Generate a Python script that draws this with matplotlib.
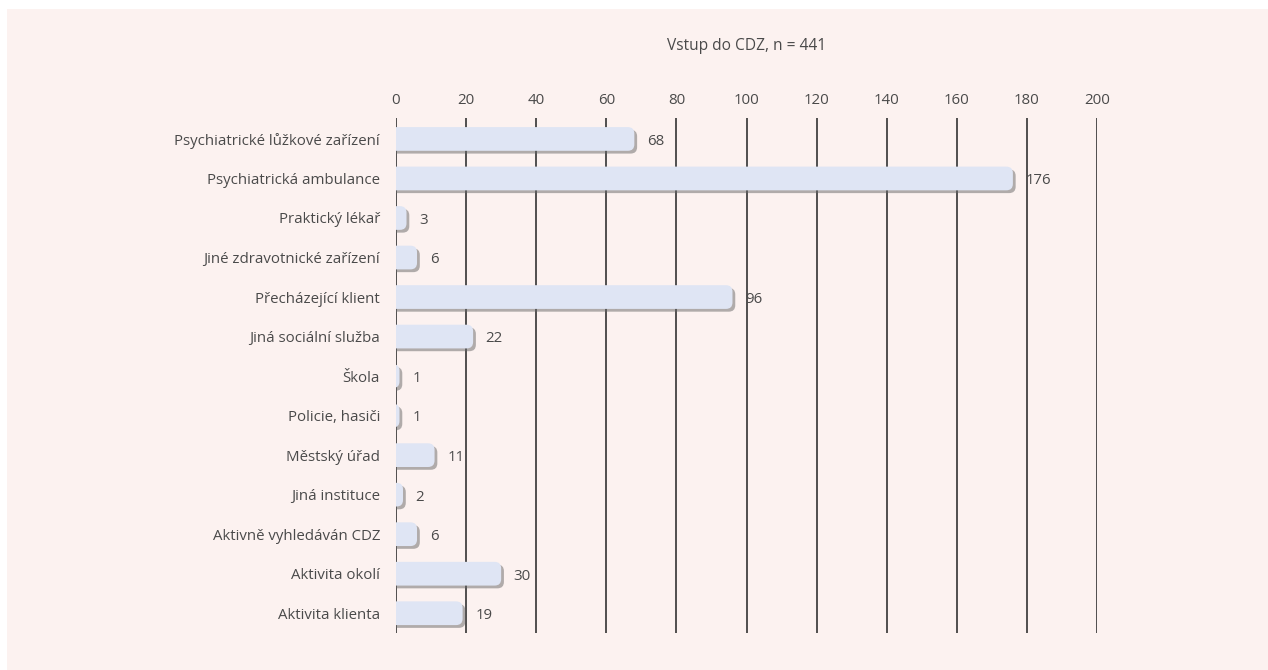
import numpy as np
import matplotlib
matplotlib.use("Agg")
import matplotlib.pyplot as plt
from matplotlib.patches import FancyBboxPatch, Rectangle
import matplotlib.patheffects as pe

plt.rcParams['font.family'] = ['Open Sans', 'DejaVu Sans']

categories = ["Psychiatrické lůžkové zařízení", "Psychiatrická ambulance",
              "Praktický lékař", "Jiné zdravotnické zařízení",
              "Přecházející klient", "Jiná sociální služba", "Škola",
              "Policie, hasiči", "Městský úřad", "Jiná instituce",
              "Aktivně vyhledáván CDZ", "Aktivita okolí", "Aktivita klienta"]
values = [68, 176, 3, 6, 96, 22, 1, 1, 11, 2, 6, 30, 19]
xticks = [0, 20, 40, 60, 80, 100, 120, 140, 160, 180, 200]
title = "Vstup do CDZ, n = 441"

W, H = 1268, 670
fig = plt.figure(figsize=(W / 100, H / 100), dpi=100)
fig.patch.set_facecolor("white")
fig.patches.append(Rectangle((7 / W, -0.01), 1.01, 1.01 - 9 / H, transform=fig.transFigure,
                             facecolor="#fcf2f0", edgecolor="none", zorder=-5))

ax = fig.add_axes([396 / W, 1 - 633 / H, (1097 - 396) / W, (633 - 118) / H])
ax.set_zorder(2)
ax.set_facecolor("none")
for s in ax.spines.values():
    s.set_visible(False)

ypos = np.arange(len(categories))
ax.set_xlim(0, 200)
ax.set_ylim(len(categories) - 0.5, -0.53)

# scale ratio so the rounded corners look circular on screen
px_x = (1097 - 396) / 200.0
px_y = (633 - 118) / (len(categories) - 0.5 + 0.53)
aspect = px_x / px_y
r_px = 6.5
r_x = r_px / px_x

bh = 0.6
bars = ax.barh(ypos, values, height=bh, color="none")
for rect, v in zip(bars, values):
    x0 = -3.0
    w = v - x0
    rs = min(r_x, w / 2.0)
    p = FancyBboxPatch((x0, rect.get_y()), w, bh,
                       boxstyle="round,pad=0,rounding_size=%f" % rs,
                       mutation_aspect=aspect,
                       facecolor="#dfe5f4", edgecolor="none", zorder=3,
                       path_effects=[pe.SimplePatchShadow(offset=(2, -2), shadow_rgbFace="#666666", alpha=0.5),
                                     pe.Normal()])
    ax.add_patch(p)
    ax.text(v + 3.6, rect.get_y() + bh / 2 + 0.06, str(v), va="center", ha="left",
            fontsize=10.8, color="#4a4a4a", zorder=4)

for t in xticks:
    ax.axvline(t, color="#333333", lw=1.2, zorder=1)

ax.xaxis.tick_top()
ax.set_xticks(xticks)
ax.set_xticklabels([str(t) for t in xticks])
ax.tick_params(axis="x", length=0, pad=7, labelsize=10.8, labelcolor="#4a4a4a")
ax.set_yticks(ypos)
ax.set_yticklabels(categories)
ax.tick_params(axis="y", length=0, pad=11.5, labelsize=10.8, labelcolor="#4a4a4a")

fig.text((396 + 1097) / 2 / W, 1 - 46 / H, title, ha="center", va="center",
         fontsize=11.2, color="#4a4a4a")

fig.savefig("out.png", dpi=100)
